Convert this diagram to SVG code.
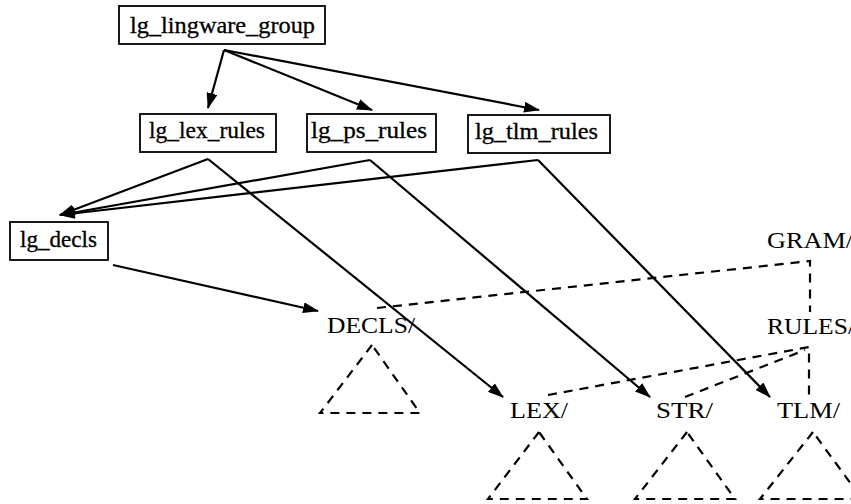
<svg xmlns="http://www.w3.org/2000/svg" width="851" height="504" viewBox="0 0 851 504">
<style>
  .box{fill:#fff;stroke:#000;stroke-width:1.8}
  .lbl{font-family:"Liberation Serif",serif;font-size:23px;fill:#000;stroke:#000;stroke-width:0.3}
  .dir{font-family:"Liberation Serif",serif;font-size:24px;fill:#000}
  .arr{fill:none;stroke:#000;stroke-width:2.2}
  .dash{fill:none;stroke:#000;stroke-width:2.2;stroke-dasharray:9,7}
</style>
<defs>
  <marker id="ah" markerUnits="userSpaceOnUse" markerWidth="16" markerHeight="11" refX="15" refY="5.5" orient="auto">
    <path d="M0,0 L16,5.5 L0,11 z" fill="#000"/>
  </marker>
</defs>
<rect width="851" height="504" fill="#fff"/>

<g id="connectors">
  <path class="arr" d="M224,50 L208,108" marker-end="url(#ah)"/>
  <path class="arr" d="M224,50 L372,110" marker-end="url(#ah)"/>
  <path class="arr" d="M224,50 L539,110" marker-end="url(#ah)"/>
  <path class="arr" d="M208,159 L60,215" marker-end="url(#ah)"/>
  <path class="arr" d="M370,160 L60,215" marker-end="url(#ah)"/>
  <path class="arr" d="M538,160 L60,215" marker-end="url(#ah)"/>
  <path class="arr" d="M208,159 L503,397" marker-end="url(#ah)"/>
  <path class="arr" d="M370,160 L650,397" marker-end="url(#ah)"/>
  <path class="arr" d="M538,160 L770,397" marker-end="url(#ah)"/>
  <path class="arr" d="M113,265 L318,311" marker-end="url(#ah)"/>
  <path class="dash" d="M377,308 L810,261 L810,312"/>
  <path class="dash" d="M548,395 L809,347 L809,397"/>
  <path class="dash" d="M685,397 L805,350"/>
</g>

<g id="lg_lingware_group">
  <rect class="box" x="119" y="6" width="206" height="38"/>
  <text class="lbl" x="130" y="33" textLength="185" lengthAdjust="spacingAndGlyphs">lg_lingware_group</text>
</g>
<g id="lg_lex_rules">
  <rect class="box" x="140" y="114" width="136" height="38"/>
  <text class="lbl" x="149" y="138" textLength="116" lengthAdjust="spacingAndGlyphs">lg_lex_rules</text>
</g>
<g id="lg_ps_rules">
  <rect class="box" x="307" y="114" width="129" height="38"/>
  <text class="lbl" x="311" y="138" textLength="116" lengthAdjust="spacingAndGlyphs">lg_ps_rules</text>
</g>
<g id="lg_tlm_rules">
  <rect class="box" x="468" y="115" width="142" height="38"/>
  <text class="lbl" x="475" y="139" textLength="123" lengthAdjust="spacingAndGlyphs">lg_tlm_rules</text>
</g>
<g id="lg_decls">
  <rect class="box" x="10" y="222" width="98" height="38"/>
  <text class="lbl" x="20" y="247" textLength="77" lengthAdjust="spacingAndGlyphs">lg_decls</text>
</g>

<g id="GRAM">
  <text class="dir" x="767" y="248" textLength="86" lengthAdjust="spacingAndGlyphs">GRAM/</text>
</g>
<g id="RULES">
  <text class="dir" x="767" y="334" textLength="88" lengthAdjust="spacingAndGlyphs">RULES/</text>
</g>
<g id="DECLS">
  <text class="dir" x="327" y="333" textLength="88" lengthAdjust="spacingAndGlyphs">DECLS/</text>
  <path class="dash" d="M372,345 L320,413 L420,413 L372,345"/>
</g>
<g id="LEX">
  <text class="dir" x="510" y="418" textLength="58" lengthAdjust="spacingAndGlyphs">LEX/</text>
  <path class="dash" d="M539,432 L488,499 L587,499 L539,432"/>
</g>
<g id="STR">
  <text class="dir" x="656" y="418" textLength="57" lengthAdjust="spacingAndGlyphs">STR/</text>
  <path class="dash" d="M687,432 L635,499 L735,499 L687,432"/>
</g>
<g id="TLM">
  <text class="dir" x="777" y="418" textLength="63" lengthAdjust="spacingAndGlyphs">TLM/</text>
  <path class="dash" d="M813,432 L760,499 L862,499 L813,432"/>
</g>
</svg>
